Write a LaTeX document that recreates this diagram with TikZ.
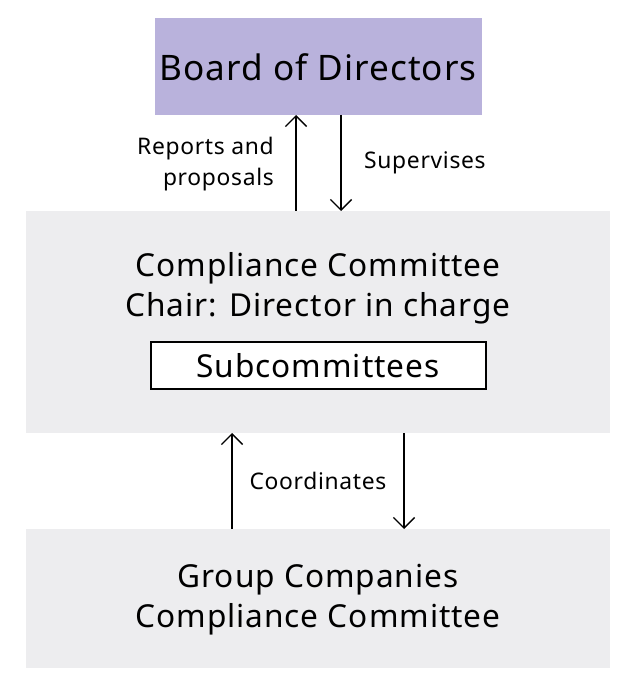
\documentclass[tikz,border=0pt]{standalone}
\usepackage{fontspec}
\setmainfont[LetterSpace=3]{Noto Sans}
\usetikzlibrary{positioning,arrows.meta}
\definecolor{boardfill}{RGB}{185,178,220}
\definecolor{panelfill}{RGB}{237,237,239}
\tikzset{
    x=0.02cm, y=-0.02cm,
    panel/.style = {
        fill=panelfill,
        draw=none
    },
    board/.style = {
        fill=boardfill,
        draw=none
    },
    subbox/.style = {
        draw,
        fill=white,
        line width=0.6pt
    },
    flow/.style = {
        draw,
        line width=0.8pt,
        -{Straight Barb[length=6pt,width=12pt]}
    },
    big/.style = {font=\fontsize{18}{22.7}\selectfont, align=center},
    small/.style = {font=\fontsize{13}{18}\selectfont, align=center},
}
\begin{document}
\begin{tikzpicture}
    \useasboundingbox (0,0) rectangle (640,685);
    \path[board] (155,18) rectangle (482,115);
    \path[panel] (26,211) rectangle (610,433);
    \path[panel] (26,529) rectangle (610,668);
    \path[subbox] (151,342) rectangle (486,389);

    \node[big, font=\fontsize{20}{24}\selectfont] (board) at (318,67) {Board of Directors};
    \node[big] (comm) at (318,288) {Compliance Committee\\Chair: Director in charge};
    \node[big] (sub) at (318,366) {Subcommittees};
    \node[big] (group) at (318,600) {Group Companies\\Compliance Committee};

    \coordinate (upA) at (296,211);
    \coordinate (upB) at (296,115);
    \coordinate (dnA) at (341,115);
    \coordinate (dnB) at (341,211);
    \coordinate (upC) at (232,529);
    \coordinate (upD) at (232,433);
    \coordinate (dnC) at (404,433);
    \coordinate (dnD) at (404,529);

    \path[flow] (upA) -- (upB);
    \path[flow] (dnA) -- (dnB);
    \path[flow] (upC) -- (upD);
    \path[flow] (dnC) -- (dnD);

    \node[small, align=right, anchor=east] (reports) at (280,164) {Reports and\\proposals};
    \node[small, anchor=west] (superv) at (358,163) {Supervises};
    \node[small] (coord) at (318,481) {Coordinates};
\end{tikzpicture}
\end{document}
